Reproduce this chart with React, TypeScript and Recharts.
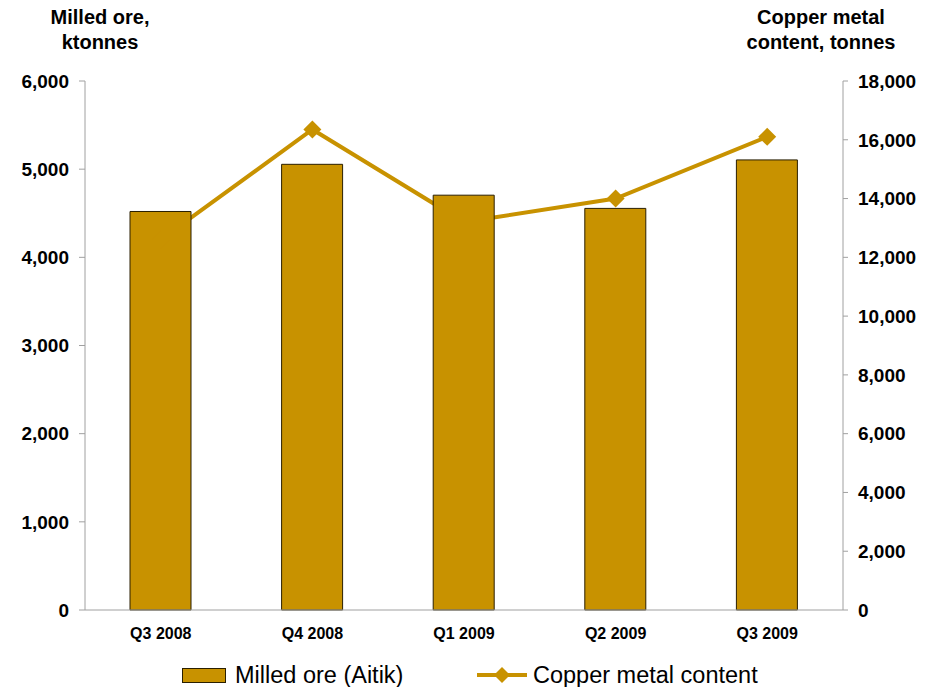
import React from 'react';
import { ComposedChart, Bar, Line, XAxis, YAxis } from 'recharts';

const quarters = ['Q3 2008', 'Q4 2008', 'Q1 2009', 'Q2 2009', 'Q3 2009'];
const milledOre = [4520, 5055, 4705, 4555, 5105];
const copperContent = [12600, 16350, 13200, 14000, 16100];

const leftTicks = [0, 1000, 2000, 3000, 4000, 5000, 6000];
const rightTicks = [0, 2000, 4000, 6000, 8000, 10000, 12000, 14000, 16000, 18000];
const boundaryTicks = [0, 1, 2, 3, 4, 5];

const GOLD = '#C89200';
const AXIS = '#a0a0a0';
const FONT = '"Liberation Sans", Arial, sans-serif';

const chartData = quarters.map((q, i) => ({
  quarter: q,
  ore: milledOre[i],
  copper: copperContent[i],
}));

const fmt = (v: number) => v.toLocaleString('en-US');

// diamond marker like the Excel original
const Diamond = (props: any) => {
  const { cx, cy, index } = props;
  if (cx == null || cy == null) return null;
  const r = 9;
  return (
    <path
      key={`d-${index}`}
      d={`M${cx},${cy - r} L${cx + r},${cy} L${cx},${cy + r} L${cx - r},${cy} Z`}
      fill={GOLD}
    />
  );
};

const titleStyle: React.CSSProperties = {
  position: 'absolute',
  top: 5,
  width: 200,
  textAlign: 'center',
  fontSize: 20,
  fontWeight: 'bold',
  lineHeight: '25px',
  color: '#000',
};

export default function App() {
  return (
    <div
      style={{
        position: 'absolute',
        left: 0,
        top: 0,
        width: 930,
        height: 687,
        background: '#fff',
        fontFamily: FONT,
        overflow: 'hidden',
      }}
    >
      <div style={{ ...titleStyle, left: 0 }}>
        Milled ore,
        <br />
        ktonnes
      </div>
      <div style={{ ...titleStyle, left: 721 }}>
        Copper metal
        <br />
        content, tonnes
      </div>

      <ComposedChart
        width={930}
        height={660}
        data={chartData}
        margin={{ top: 81, right: 0, left: 0, bottom: 20 }}
        style={{ position: 'absolute', left: 0, top: 0 }}
      >
        {/* tick marks between the categories */}
        <XAxis
          xAxisId="edges"
          type="number"
          domain={[0, 5]}
          ticks={boundaryTicks}
          allowDataOverflow
          tick={false}
          axisLine={false}
          tickLine={{ stroke: AXIS }}
          tickSize={6}
          height={0}
        />
        <XAxis
          dataKey="quarter"
          height={30}
          tickLine={false}
          tickSize={0}
          tickMargin={18}
          axisLine={{ stroke: AXIS }}
          tick={{ fill: '#000', fontSize: 16, fontWeight: 'bold', fontFamily: FONT }}
          interval={0}
        />
        <YAxis
          yAxisId="left"
          width={85}
          domain={[0, 6000]}
          ticks={leftTicks}
          tickFormatter={fmt}
          tickSize={6}
          tickMargin={10}
          axisLine={{ stroke: AXIS }}
          tickLine={{ stroke: AXIS }}
          tick={{ fill: '#000', fontSize: 19, fontWeight: 'bold', fontFamily: FONT }}
        />
        <YAxis
          yAxisId="right"
          orientation="right"
          width={87}
          domain={[0, 18000]}
          ticks={rightTicks}
          tickFormatter={fmt}
          tickSize={5}
          tickMargin={10}
          axisLine={{ stroke: AXIS }}
          tickLine={{ stroke: AXIS }}
          tick={{ fill: '#000', fontSize: 19, fontWeight: 'bold', fontFamily: FONT }}
        />
        <Line
          yAxisId="right"
          dataKey="copper"
          stroke={GOLD}
          strokeWidth={4}
          dot={Diamond}
          activeDot={false}
          isAnimationActive={false}
          zIndex={250}
        />
        <Bar
          yAxisId="left"
          dataKey="ore"
          barSize={61}
          fill={GOLD}
          stroke="#2a1f00"
          strokeWidth={1}
          isAnimationActive={false}
        />
      </ComposedChart>

      {/* legend */}
      <div
        style={{
          position: 'absolute',
          left: 182,
          top: 668,
          width: 42,
          height: 13,
          background: GOLD,
          border: '1px solid #2a1f00',
        }}
      />
      <div style={{ position: 'absolute', left: 235, top: 660, fontSize: 23.5, lineHeight: '30px', color: '#000' }}>
        Milled ore (Aitik)
      </div>
      <svg style={{ position: 'absolute', left: 477, top: 665 }} width={52} height={20}>
        <line x1={0} y1={10} x2={50} y2={10} stroke={GOLD} strokeWidth={4} />
        <path d="M25,2 L33,10 L25,18 L17,10 Z" fill={GOLD} />
      </svg>
      <div style={{ position: 'absolute', left: 533, top: 660, fontSize: 23.5, lineHeight: '30px', color: '#000' }}>
        Copper metal content
      </div>
    </div>
  );
}
